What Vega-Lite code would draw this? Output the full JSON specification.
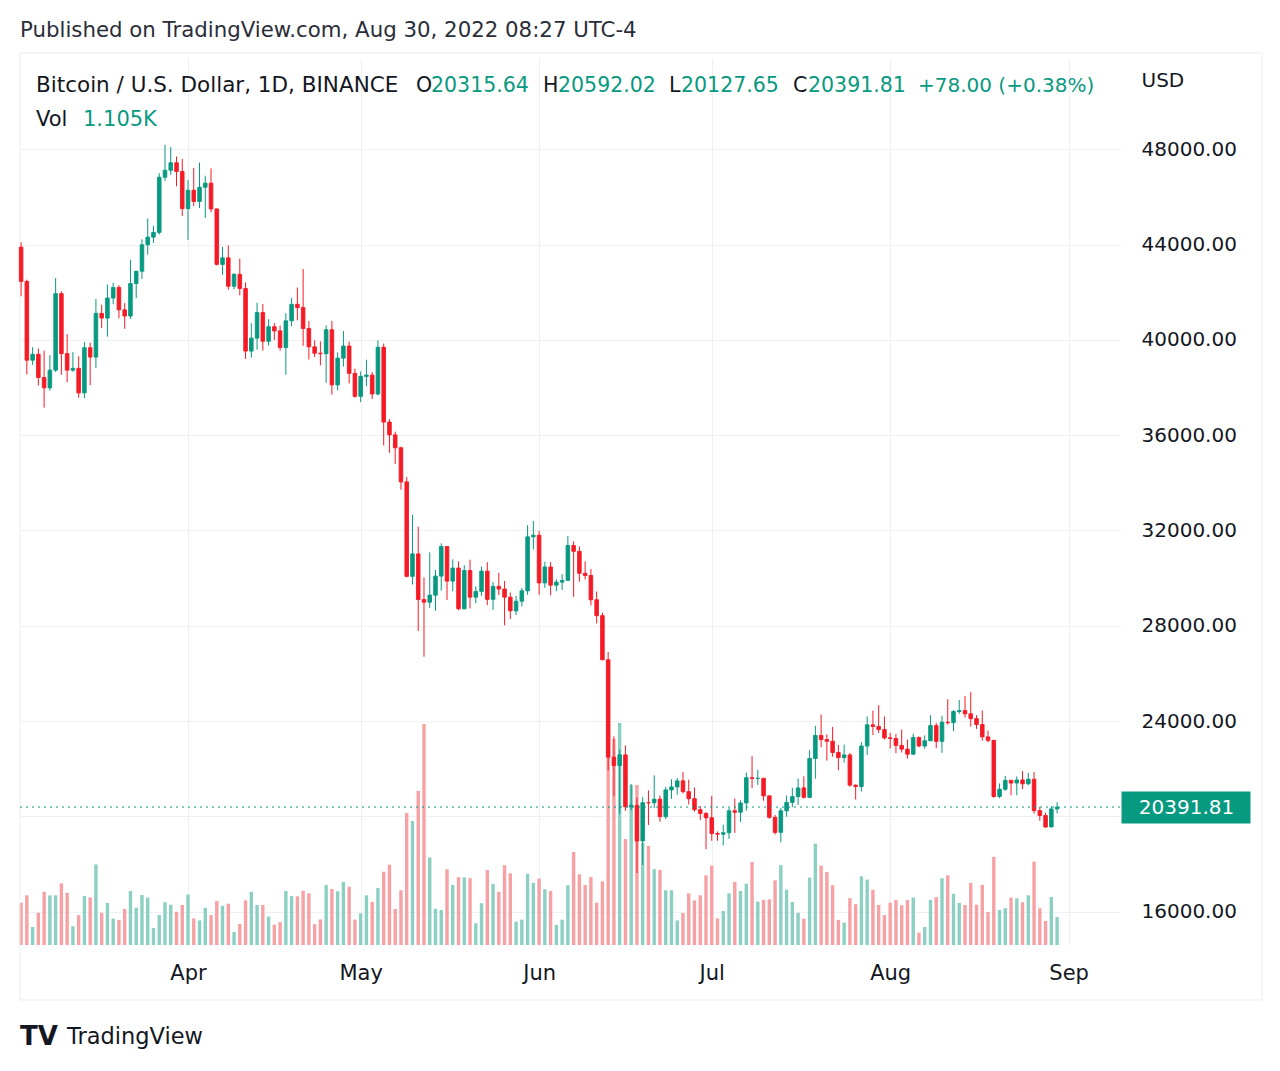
{
"$schema": "https://vega.github.io/schema/vega-lite/v6.json",
"width": 1100, "height": 887,
"autosize": {"type": "none"},
"padding": {"left": 20, "top": 58, "right": 160, "bottom": 126},
"background": "#ffffff",
"config": {"view": {"stroke": null}, "font": "DejaVu Sans", "axis": {"labelFont": "DejaVu Sans", "titleFont": "DejaVu Sans"}},
"data": {"values": [
{"d":"2022-03-03","o":43892,"h":44101,"l":41832,"c":42454,"v":1.67},
{"d":"2022-03-04","o":42454,"h":42527,"l":38550,"c":39148,"v":1.96},
{"d":"2022-03-05","o":39148,"h":39693,"l":38950,"c":39397,"v":0.71},
{"d":"2022-03-06","o":39397,"h":39640,"l":38088,"c":38420,"v":1.27},
{"d":"2022-03-07","o":38420,"h":39548,"l":37155,"c":37988,"v":2.10},
{"d":"2022-03-08","o":37988,"h":39362,"l":37867,"c":38730,"v":1.96},
{"d":"2022-03-09","o":38730,"h":42594,"l":38656,"c":41941,"v":1.96},
{"d":"2022-03-10","o":41941,"h":42039,"l":38539,"c":39422,"v":2.43},
{"d":"2022-03-11","o":39422,"h":40236,"l":38223,"c":38730,"v":2.06},
{"d":"2022-03-12","o":38730,"h":39486,"l":38660,"c":38807,"v":0.74},
{"d":"2022-03-13","o":38807,"h":39310,"l":37578,"c":37777,"v":1.18},
{"d":"2022-03-14","o":37777,"h":39915,"l":37555,"c":39671,"v":1.93},
{"d":"2022-03-15","o":39671,"h":39887,"l":38098,"c":39280,"v":1.88},
{"d":"2022-03-16","o":39280,"h":41720,"l":38828,"c":41114,"v":3.18},
{"d":"2022-03-17","o":41114,"h":41478,"l":40500,"c":40917,"v":1.27},
{"d":"2022-03-18","o":40917,"h":42325,"l":40135,"c":41757,"v":1.66},
{"d":"2022-03-19","o":41757,"h":42400,"l":41499,"c":42201,"v":1.04},
{"d":"2022-03-20","o":42201,"h":42296,"l":40911,"c":41262,"v":0.99},
{"d":"2022-03-21","o":41262,"h":41544,"l":40467,"c":41002,"v":1.42},
{"d":"2022-03-22","o":41002,"h":43361,"l":40875,"c":42364,"v":2.13},
{"d":"2022-03-23","o":42364,"h":42893,"l":41751,"c":42882,"v":1.47},
{"d":"2022-03-24","o":42882,"h":44220,"l":42560,"c":43991,"v":1.97},
{"d":"2022-03-25","o":43991,"h":45094,"l":43579,"c":44313,"v":1.87},
{"d":"2022-03-26","o":44313,"h":44792,"l":44071,"c":44511,"v":0.67},
{"d":"2022-03-27","o":44511,"h":46999,"l":44422,"c":46827,"v":1.18},
{"d":"2022-03-28","o":46827,"h":48190,"l":46664,"c":47122,"v":1.69},
{"d":"2022-03-29","o":47122,"h":48097,"l":46930,"c":47434,"v":1.59},
{"d":"2022-03-30","o":47434,"h":47700,"l":46445,"c":47067,"v":1.31},
{"d":"2022-03-31","o":47067,"h":47600,"l":45200,"c":45510,"v":1.58},
{"d":"2022-04-01","o":45510,"h":46720,"l":44200,"c":46283,"v":1.99},
{"d":"2022-04-02","o":46283,"h":47213,"l":45620,"c":45811,"v":1.05},
{"d":"2022-04-03","o":45811,"h":47444,"l":45530,"c":46407,"v":0.97},
{"d":"2022-04-04","o":46407,"h":46891,"l":45118,"c":46580,"v":1.47},
{"d":"2022-04-05","o":46580,"h":47200,"l":45353,"c":45497,"v":1.18},
{"d":"2022-04-06","o":45497,"h":45507,"l":43121,"c":43170,"v":1.74},
{"d":"2022-04-07","o":43170,"h":43900,"l":42727,"c":43444,"v":1.55},
{"d":"2022-04-08","o":43444,"h":43970,"l":42107,"c":42252,"v":1.63},
{"d":"2022-04-09","o":42252,"h":42800,"l":42125,"c":42753,"v":0.51},
{"d":"2022-04-10","o":42753,"h":43410,"l":41868,"c":42158,"v":0.83},
{"d":"2022-04-11","o":42158,"h":42414,"l":39200,"c":39530,"v":1.76},
{"d":"2022-04-12","o":39530,"h":40699,"l":39254,"c":40074,"v":2.10},
{"d":"2022-04-13","o":40074,"h":41561,"l":39588,"c":41147,"v":1.58},
{"d":"2022-04-14","o":41147,"h":41500,"l":39551,"c":39942,"v":1.58},
{"d":"2022-04-15","o":39942,"h":40870,"l":39767,"c":40552,"v":1.12},
{"d":"2022-04-16","o":40552,"h":40709,"l":39991,"c":40378,"v":0.80},
{"d":"2022-04-17","o":40378,"h":40595,"l":39546,"c":39678,"v":0.90},
{"d":"2022-04-18","o":39678,"h":41117,"l":38536,"c":40801,"v":2.13},
{"d":"2022-04-19","o":40801,"h":41760,"l":40571,"c":41493,"v":1.93},
{"d":"2022-04-20","o":41494,"h":42199,"l":40820,"c":41358,"v":1.92},
{"d":"2022-04-21","o":41358,"h":42976,"l":39751,"c":40480,"v":2.14},
{"d":"2022-04-22","o":40480,"h":40795,"l":39177,"c":39709,"v":2.04},
{"d":"2022-04-23","o":39709,"h":39980,"l":39285,"c":39441,"v":0.82},
{"d":"2022-04-24","o":39441,"h":39940,"l":38929,"c":39420,"v":1.01},
{"d":"2022-04-25","o":39420,"h":40616,"l":38200,"c":40426,"v":2.36},
{"d":"2022-04-26","o":40426,"h":40797,"l":37702,"c":38112,"v":2.21},
{"d":"2022-04-27","o":38112,"h":39474,"l":37881,"c":39235,"v":2.12},
{"d":"2022-04-28","o":39235,"h":40372,"l":38881,"c":39742,"v":2.49},
{"d":"2022-04-29","o":39742,"h":39925,"l":38175,"c":38596,"v":2.30},
{"d":"2022-04-30","o":38596,"h":38795,"l":37578,"c":37631,"v":1.00},
{"d":"2022-05-01","o":37631,"h":38675,"l":37387,"c":38468,"v":1.25},
{"d":"2022-05-02","o":38468,"h":39167,"l":38052,"c":38525,"v":1.96},
{"d":"2022-05-03","o":38525,"h":38651,"l":37517,"c":37729,"v":1.70},
{"d":"2022-05-04","o":37729,"h":39980,"l":37671,"c":39690,"v":2.25},
{"d":"2022-05-05","o":39690,"h":39845,"l":35571,"c":36552,"v":2.89},
{"d":"2022-05-06","o":36553,"h":36675,"l":35258,"c":36013,"v":3.17},
{"d":"2022-05-07","o":36014,"h":36146,"l":34785,"c":35472,"v":1.42},
{"d":"2022-05-08","o":35472,"h":35514,"l":33714,"c":34039,"v":2.16},
{"d":"2022-05-09","o":34039,"h":34243,"l":30033,"c":30076,"v":5.21},
{"d":"2022-05-10","o":30075,"h":32659,"l":29730,"c":31017,"v":4.89},
{"d":"2022-05-11","o":31017,"h":32162,"l":27785,"c":29103,"v":6.08},
{"d":"2022-05-12","o":29103,"h":30033,"l":26700,"c":28990,"v":8.72},
{"d":"2022-05-13","o":28990,"h":31083,"l":28751,"c":29287,"v":3.45},
{"d":"2022-05-14","o":29287,"h":30343,"l":28630,"c":30086,"v":1.43},
{"d":"2022-05-15","o":30086,"h":31460,"l":29480,"c":31328,"v":1.38},
{"d":"2022-05-16","o":31328,"h":31328,"l":29087,"c":29875,"v":2.99},
{"d":"2022-05-17","o":29875,"h":30788,"l":29450,"c":30424,"v":2.37},
{"d":"2022-05-18","o":30424,"h":30700,"l":28654,"c":28715,"v":2.68},
{"d":"2022-05-19","o":28715,"h":30545,"l":28693,"c":30319,"v":2.67},
{"d":"2022-05-20","o":30319,"h":30777,"l":28730,"c":29201,"v":2.64},
{"d":"2022-05-21","o":29201,"h":29656,"l":28947,"c":29445,"v":0.86},
{"d":"2022-05-22","o":29445,"h":30487,"l":29255,"c":30294,"v":1.65},
{"d":"2022-05-23","o":30294,"h":30670,"l":28866,"c":29110,"v":2.96},
{"d":"2022-05-24","o":29110,"h":29834,"l":28669,"c":29655,"v":2.41},
{"d":"2022-05-25","o":29655,"h":30223,"l":29294,"c":29543,"v":2.10},
{"d":"2022-05-26","o":29543,"h":29880,"l":28019,"c":29202,"v":3.15},
{"d":"2022-05-27","o":29202,"h":29397,"l":28282,"c":28627,"v":2.83},
{"d":"2022-05-28","o":28627,"h":29250,"l":28450,"c":29032,"v":0.92},
{"d":"2022-05-29","o":29032,"h":29587,"l":28812,"c":29468,"v":1.00},
{"d":"2022-05-30","o":29469,"h":32222,"l":29300,"c":31734,"v":2.81},
{"d":"2022-05-31","o":31734,"h":32399,"l":31200,"c":31801,"v":2.45},
{"d":"2022-06-01","o":31801,"h":31982,"l":29301,"c":29799,"v":2.62},
{"d":"2022-06-02","o":29800,"h":30690,"l":29594,"c":30468,"v":2.20},
{"d":"2022-06-03","o":30468,"h":30675,"l":29282,"c":29705,"v":2.13},
{"d":"2022-06-04","o":29706,"h":29950,"l":29450,"c":29833,"v":0.79},
{"d":"2022-06-05","o":29833,"h":30169,"l":29500,"c":29907,"v":1.00},
{"d":"2022-06-06","o":29907,"h":31765,"l":29880,"c":31371,"v":2.36},
{"d":"2022-06-07","o":31371,"h":31550,"l":29218,"c":31125,"v":3.67},
{"d":"2022-06-08","o":31125,"h":31330,"l":29850,"c":30205,"v":2.79},
{"d":"2022-06-09","o":30205,"h":30700,"l":29944,"c":30110,"v":2.37},
{"d":"2022-06-10","o":30110,"h":30387,"l":28850,"c":29091,"v":2.68},
{"d":"2022-06-11","o":29092,"h":29440,"l":28100,"c":28424,"v":1.67},
{"d":"2022-06-12","o":28425,"h":28544,"l":26560,"c":26575,"v":2.51},
{"d":"2022-06-13","o":26575,"h":26900,"l":21925,"c":22487,"v":10.66},
{"d":"2022-06-14","o":22485,"h":23362,"l":20846,"c":22136,"v":8.13},
{"d":"2022-06-15","o":22136,"h":22800,"l":20111,"c":22583,"v":8.76},
{"d":"2022-06-16","o":22583,"h":22980,"l":20232,"c":20401,"v":4.18},
{"d":"2022-06-17","o":20401,"h":21365,"l":20246,"c":20468,"v":6.31},
{"d":"2022-06-18","o":20468,"h":20792,"l":17622,"c":18970,"v":6.31},
{"d":"2022-06-19","o":18970,"h":20815,"l":17960,"c":20574,"v":4.03},
{"d":"2022-06-20","o":20575,"h":21090,"l":19637,"c":20573,"v":3.91},
{"d":"2022-06-21","o":20573,"h":21723,"l":20348,"c":20723,"v":2.99},
{"d":"2022-06-22","o":20723,"h":20872,"l":19770,"c":19987,"v":2.96},
{"d":"2022-06-23","o":19988,"h":21233,"l":19890,"c":21110,"v":2.16},
{"d":"2022-06-24","o":21110,"h":21558,"l":20740,"c":21237,"v":2.16},
{"d":"2022-06-25","o":21237,"h":21614,"l":20906,"c":21491,"v":0.97},
{"d":"2022-06-26","o":21492,"h":21869,"l":20958,"c":21038,"v":1.26},
{"d":"2022-06-27","o":21038,"h":21540,"l":20500,"c":20742,"v":2.04},
{"d":"2022-06-28","o":20742,"h":21212,"l":20202,"c":20281,"v":1.76},
{"d":"2022-06-29","o":20281,"h":20432,"l":19845,"c":20123,"v":1.96},
{"d":"2022-06-30","o":20123,"h":20179,"l":18626,"c":19942,"v":2.75},
{"d":"2022-07-01","o":19942,"h":20865,"l":18975,"c":19279,"v":3.13},
{"d":"2022-07-02","o":19279,"h":19371,"l":18977,"c":19252,"v":1.05},
{"d":"2022-07-03","o":19252,"h":19647,"l":18781,"c":19315,"v":1.34},
{"d":"2022-07-04","o":19315,"h":20354,"l":19055,"c":20236,"v":2.04},
{"d":"2022-07-05","o":20236,"h":20750,"l":19304,"c":20175,"v":2.49},
{"d":"2022-07-06","o":20175,"h":20675,"l":19761,"c":20564,"v":2.13},
{"d":"2022-07-07","o":20564,"h":21838,"l":20249,"c":21624,"v":2.42},
{"d":"2022-07-08","o":21624,"h":22527,"l":21189,"c":21595,"v":3.28},
{"d":"2022-07-09","o":21595,"h":21956,"l":21322,"c":21600,"v":1.71},
{"d":"2022-07-10","o":21600,"h":21607,"l":20655,"c":20862,"v":1.78},
{"d":"2022-07-11","o":20862,"h":20868,"l":19901,"c":19963,"v":1.80},
{"d":"2022-07-12","o":19963,"h":20059,"l":19240,"c":19328,"v":2.55},
{"d":"2022-07-13","o":19331,"h":20366,"l":18910,"c":20235,"v":3.15},
{"d":"2022-07-14","o":20235,"h":20880,"l":19986,"c":20588,"v":2.18},
{"d":"2022-07-15","o":20589,"h":21200,"l":20382,"c":20830,"v":1.70},
{"d":"2022-07-16","o":20830,"h":21588,"l":20478,"c":21195,"v":1.27},
{"d":"2022-07-17","o":21196,"h":21684,"l":20751,"c":20799,"v":1.04},
{"d":"2022-07-18","o":20799,"h":22777,"l":20762,"c":22432,"v":2.66},
{"d":"2022-07-19","o":22432,"h":23800,"l":21582,"c":23397,"v":4.00},
{"d":"2022-07-20","o":23397,"h":24276,"l":22906,"c":23224,"v":3.13},
{"d":"2022-07-21","o":23224,"h":23442,"l":22342,"c":23155,"v":2.88},
{"d":"2022-07-22","o":23155,"h":23757,"l":22500,"c":22682,"v":2.36},
{"d":"2022-07-23","o":22682,"h":22998,"l":21934,"c":22465,"v":0.99},
{"d":"2022-07-24","o":22465,"h":23014,"l":22258,"c":22579,"v":0.88},
{"d":"2022-07-25","o":22578,"h":22666,"l":21250,"c":21311,"v":1.85},
{"d":"2022-07-26","o":21311,"h":21344,"l":20706,"c":21252,"v":1.61},
{"d":"2022-07-27","o":21252,"h":23112,"l":21043,"c":22952,"v":2.71},
{"d":"2022-07-28","o":22953,"h":24199,"l":22581,"c":23843,"v":2.58},
{"d":"2022-07-29","o":23843,"h":24442,"l":23414,"c":23774,"v":2.18},
{"d":"2022-07-30","o":23774,"h":24668,"l":23502,"c":23644,"v":1.58},
{"d":"2022-07-31","o":23645,"h":24194,"l":23228,"c":23294,"v":1.18},
{"d":"2022-08-01","o":23297,"h":23510,"l":22850,"c":23269,"v":1.67},
{"d":"2022-08-02","o":23269,"h":23466,"l":22655,"c":22979,"v":1.78},
{"d":"2022-08-03","o":22979,"h":23648,"l":22682,"c":22824,"v":1.57},
{"d":"2022-08-04","o":22824,"h":23225,"l":22423,"c":22611,"v":1.78},
{"d":"2022-08-05","o":22611,"h":23475,"l":22585,"c":23312,"v":1.87},
{"d":"2022-08-06","o":23312,"h":23354,"l":22900,"c":22955,"v":0.49},
{"d":"2022-08-07","o":22955,"h":23400,"l":22841,"c":23175,"v":0.71},
{"d":"2022-08-08","o":23175,"h":24245,"l":23155,"c":23810,"v":1.78},
{"d":"2022-08-09","o":23810,"h":23929,"l":22860,"c":23150,"v":1.89},
{"d":"2022-08-10","o":23150,"h":24226,"l":22665,"c":23954,"v":2.63},
{"d":"2022-08-11","o":23954,"h":24918,"l":23853,"c":23935,"v":2.75},
{"d":"2022-08-12","o":23934,"h":24457,"l":23580,"c":24403,"v":2.02},
{"d":"2022-08-13","o":24403,"h":24888,"l":24300,"c":24442,"v":1.66},
{"d":"2022-08-14","o":24443,"h":25047,"l":24150,"c":24306,"v":1.58},
{"d":"2022-08-15","o":24306,"h":25212,"l":23774,"c":24102,"v":2.45},
{"d":"2022-08-16","o":24102,"h":24247,"l":23671,"c":23855,"v":1.59},
{"d":"2022-08-17","o":23855,"h":24446,"l":23180,"c":23337,"v":2.37},
{"d":"2022-08-18","o":23337,"h":23600,"l":23109,"c":23192,"v":1.30},
{"d":"2022-08-19","o":23192,"h":23208,"l":20783,"c":20835,"v":3.48},
{"d":"2022-08-20","o":20835,"h":21382,"l":20762,"c":21140,"v":1.38},
{"d":"2022-08-21","o":21140,"h":21700,"l":21070,"c":21516,"v":1.45},
{"d":"2022-08-22","o":21516,"h":21522,"l":20890,"c":21400,"v":1.87},
{"d":"2022-08-23","o":21400,"h":21678,"l":20890,"c":21529,"v":1.84},
{"d":"2022-08-24","o":21529,"h":21900,"l":21145,"c":21368,"v":1.69},
{"d":"2022-08-25","o":21368,"h":21819,"l":21310,"c":21560,"v":1.96},
{"d":"2022-08-26","o":21560,"h":21867,"l":20113,"c":20241,"v":3.29},
{"d":"2022-08-27","o":20241,"h":20400,"l":19813,"c":20038,"v":1.45},
{"d":"2022-08-28","o":20037,"h":20148,"l":19520,"c":19555,"v":0.95},
{"d":"2022-08-29","o":19555,"h":20433,"l":19550,"c":20313.81,"v":1.89},
{"d":"2022-08-30","o":20315.64,"h":20592.02,"l":20127.65,"c":20391.81,"v":1.105}
]},
"resolve": {"scale": {"y": "independent"}},
"layer": [
{
 "mark": {"type": "bar", "size": 3.4},
 "encoding": {
  "x": {"field": "d", "type": "temporal", "scale": {"type": "utc", "domain": [1646249097600, 1662761952000], "padding": 0, "nice": false},
   "axis": {"values": [1648771200000, 1651363200000, 1654041600000, 1656633600000, 1659312000000, 1661990400000],
    "labelExpr": "utcFormat(datum.value, '%b')", "domain": false, "ticks": false, "grid": true, "gridColor": "#eef0f3", "gridWidth": 1,
    "labelFontSize": 21, "labelColor": "#131722", "labelPadding": 28, "labelBaseline": "middle", "labelFlush": false, "labelOverlap": false, "title": null}},
  "y": {"field": "v", "type": "quantitative", "scale": {"domain": [0, 35], "nice": false, "zero": true}, "axis": null},
  "color": {"condition": {"test": "datum.c >= datum.o", "value": "#8bd0c2"}, "value": "#f6a1a4"}
 }
},
{
 "resolve": {"axis": {"y": "independent"}},
 "layer": [
  {
   "data": {"values": [{}]},
   "mark": {"type": "rect", "fill": null, "fillOpacity": 0, "stroke": "#e9ecf1", "strokeWidth": 1},
   "encoding": {
    "x": {"datum": 1646249097600, "type": "temporal", "scale": {"type": "utc", "domain": [1646249097600, 1662761952000], "padding": 0, "nice": false}},
    "x2": {"datum": 1664893353600},
    "y": {"datum": 52042, "type": "quantitative", "scale": {"domain": [14602, 51832], "nice": false, "zero": false}, "axis": null},
    "y2": {"datum": 12294}
   }
  },
  {
   "mark": {"type": "rule", "strokeWidth": 1},
   "encoding": {
    "x": {"field": "d", "type": "temporal", "scale": {"type": "utc", "domain": [1646249097600, 1662761952000], "padding": 0, "nice": false}},
    "y": {"field": "l", "type": "quantitative", "scale": {"domain": [14602, 51832], "nice": false, "zero": false},
     "axis": {"orient": "right", "values": [16000, 20000, 24000, 28000, 32000, 36000, 40000, 44000, 48000],
      "labelExpr": "datum.value == 20000 ? '' : format(datum.value, '.2f')", "domain": false, "ticks": false, "grid": true, "gridColor": "#eef0f3",
      "labelFontSize": 20, "labelColor": "#131722", "labelAlign": "left", "labelBaseline": "middle", "labelPadding": 21, "labelFlush": false, "labelOverlap": false,
      "title": "USD", "titleAngle": 0, "titleAlign": "left", "titleBaseline": "middle", "titleX": 21, "titleY": 22, "titleFontSize": 20, "titleFontWeight": "normal", "titleColor": "#131722"}},
    "y2": {"field": "h"},
    "color": {"condition": {"test": "datum.c >= datum.o", "value": "#089981"}, "value": "#f51b26"}
   }
  },
  {
   "mark": {"type": "bar", "size": 3.6, "strokeWidth": 0.9},
   "encoding": {
    "x": {"field": "d", "type": "temporal", "scale": {"type": "utc", "domain": [1646249097600, 1662761952000], "padding": 0, "nice": false}},
    "y": {"field": "o", "type": "quantitative", "scale": {"domain": [14602, 51832], "nice": false, "zero": false}, "axis": null},
    "y2": {"field": "c"},
    "color": {"condition": {"test": "datum.c >= datum.o", "value": "#089981"}, "value": "#f51b26"},
    "stroke": {"condition": {"test": "datum.c >= datum.o", "value": "#089981"}, "value": "#f51b26"}
   }
  },
  {
   "data": {"values": [{}]},
   "mark": {"type": "rule", "strokeDash": [2, 4], "color": "#089981", "strokeWidth": 1},
   "encoding": {
    "y": {"datum": 20391.81, "type": "quantitative", "scale": {"domain": [14602, 51832], "nice": false, "zero": false},
     "axis": {"orient": "right", "values": [20391.81], "domain": false, "grid": false, "ticks": true, "tickSize": 129, "tickWidth": 32,
      "tickColor": "#089981", "tickCap": "butt", "offset": 1, "labelExpr": "format(datum.value, '.2f')", "labelColor": "#ffffff",
      "labelFontSize": 20, "labelAlign": "center", "labelBaseline": "middle", "labelPadding": -64, "labelFlush": false, "labelOverlap": false, "title": null}}
   }
  },
  {
   "data": {"values": [{}]},
   "layer": [
    {"mark": {"type": "text", "text": "Published on TradingView.com, Aug 30, 2022 08:27 UTC-4", "align": "left", "baseline": "middle", "dx": -1.1, "fontSize": 21.3, "font": "DejaVu Sans", "color": "#2a2e39"},
     "encoding": {"x": {"datum": {"year": 2022, "month": 3, "date": 3, "utc": true}, "type": "temporal", "scale": {"type": "utc", "domain": [1646249097600, 1662761952000], "padding": 0, "nice": false}},
      "y": {"datum": 52965, "type": "quantitative", "scale": {"domain": [14602, 51832], "nice": false, "zero": false}, "axis": null}}},
    {"mark": {"type": "text", "text": "Bitcoin / U.S. Dollar, 1D, BINANCE", "align": "left", "baseline": "middle", "dx": 14.9, "fontSize": 21.5, "font": "DejaVu Sans", "color": "#131722"},
     "encoding": {"x": {"datum": {"year": 2022, "month": 3, "date": 3, "utc": true}, "type": "temporal", "scale": {"type": "utc", "domain": [1646249097600, 1662761952000], "padding": 0, "nice": false}},
      "y": {"datum": 50657, "type": "quantitative", "scale": {"domain": [14602, 51832], "nice": false, "zero": false}, "axis": null}}},
    {"mark": {"type": "text", "text": "O", "align": "left", "baseline": "middle", "dx": 394.9, "fontSize": 20.5, "font": "DejaVu Sans", "color": "#131722"},
     "encoding": {"x": {"datum": {"year": 2022, "month": 3, "date": 3, "utc": true}, "type": "temporal", "scale": {"type": "utc", "domain": [1646249097600, 1662761952000], "padding": 0, "nice": false}},
      "y": {"datum": 50657, "type": "quantitative", "scale": {"domain": [14602, 51832], "nice": false, "zero": false}, "axis": null}}},
    {"mark": {"type": "text", "text": "20315.64", "align": "left", "baseline": "middle", "dx": 409.9, "fontSize": 20.5, "font": "DejaVu Sans", "color": "#089981"},
     "encoding": {"x": {"datum": {"year": 2022, "month": 3, "date": 3, "utc": true}, "type": "temporal", "scale": {"type": "utc", "domain": [1646249097600, 1662761952000], "padding": 0, "nice": false}},
      "y": {"datum": 50657, "type": "quantitative", "scale": {"domain": [14602, 51832], "nice": false, "zero": false}, "axis": null}}},
    {"mark": {"type": "text", "text": "H", "align": "left", "baseline": "middle", "dx": 521.9, "fontSize": 20.5, "font": "DejaVu Sans", "color": "#131722"},
     "encoding": {"x": {"datum": {"year": 2022, "month": 3, "date": 3, "utc": true}, "type": "temporal", "scale": {"type": "utc", "domain": [1646249097600, 1662761952000], "padding": 0, "nice": false}},
      "y": {"datum": 50657, "type": "quantitative", "scale": {"domain": [14602, 51832], "nice": false, "zero": false}, "axis": null}}},
    {"mark": {"type": "text", "text": "20592.02", "align": "left", "baseline": "middle", "dx": 536.9, "fontSize": 20.5, "font": "DejaVu Sans", "color": "#089981"},
     "encoding": {"x": {"datum": {"year": 2022, "month": 3, "date": 3, "utc": true}, "type": "temporal", "scale": {"type": "utc", "domain": [1646249097600, 1662761952000], "padding": 0, "nice": false}},
      "y": {"datum": 50657, "type": "quantitative", "scale": {"domain": [14602, 51832], "nice": false, "zero": false}, "axis": null}}},
    {"mark": {"type": "text", "text": "L", "align": "left", "baseline": "middle", "dx": 647.9, "fontSize": 20.5, "font": "DejaVu Sans", "color": "#131722"},
     "encoding": {"x": {"datum": {"year": 2022, "month": 3, "date": 3, "utc": true}, "type": "temporal", "scale": {"type": "utc", "domain": [1646249097600, 1662761952000], "padding": 0, "nice": false}},
      "y": {"datum": 50657, "type": "quantitative", "scale": {"domain": [14602, 51832], "nice": false, "zero": false}, "axis": null}}},
    {"mark": {"type": "text", "text": "20127.65", "align": "left", "baseline": "middle", "dx": 659.9, "fontSize": 20.5, "font": "DejaVu Sans", "color": "#089981"},
     "encoding": {"x": {"datum": {"year": 2022, "month": 3, "date": 3, "utc": true}, "type": "temporal", "scale": {"type": "utc", "domain": [1646249097600, 1662761952000], "padding": 0, "nice": false}},
      "y": {"datum": 50657, "type": "quantitative", "scale": {"domain": [14602, 51832], "nice": false, "zero": false}, "axis": null}}},
    {"mark": {"type": "text", "text": "C", "align": "left", "baseline": "middle", "dx": 771.9, "fontSize": 20.5, "font": "DejaVu Sans", "color": "#131722"},
     "encoding": {"x": {"datum": {"year": 2022, "month": 3, "date": 3, "utc": true}, "type": "temporal", "scale": {"type": "utc", "domain": [1646249097600, 1662761952000], "padding": 0, "nice": false}},
      "y": {"datum": 50657, "type": "quantitative", "scale": {"domain": [14602, 51832], "nice": false, "zero": false}, "axis": null}}},
    {"mark": {"type": "text", "text": "20391.81", "align": "left", "baseline": "middle", "dx": 786.9, "fontSize": 20.5, "font": "DejaVu Sans", "color": "#089981"},
     "encoding": {"x": {"datum": {"year": 2022, "month": 3, "date": 3, "utc": true}, "type": "temporal", "scale": {"type": "utc", "domain": [1646249097600, 1662761952000], "padding": 0, "nice": false}},
      "y": {"datum": 50657, "type": "quantitative", "scale": {"domain": [14602, 51832], "nice": false, "zero": false}, "axis": null}}},
    {"mark": {"type": "text", "text": "+78.00 (+0.38%)", "align": "left", "baseline": "middle", "dx": 896.9, "fontSize": 20, "font": "DejaVu Sans", "color": "#089981"},
     "encoding": {"x": {"datum": {"year": 2022, "month": 3, "date": 3, "utc": true}, "type": "temporal", "scale": {"type": "utc", "domain": [1646249097600, 1662761952000], "padding": 0, "nice": false}},
      "y": {"datum": 50657, "type": "quantitative", "scale": {"domain": [14602, 51832], "nice": false, "zero": false}, "axis": null}}},
    {"mark": {"type": "text", "text": "Vol", "align": "left", "baseline": "middle", "dx": 14.9, "fontSize": 21, "font": "DejaVu Sans", "color": "#131722"},
     "encoding": {"x": {"datum": {"year": 2022, "month": 3, "date": 3, "utc": true}, "type": "temporal", "scale": {"type": "utc", "domain": [1646249097600, 1662761952000], "padding": 0, "nice": false}},
      "y": {"datum": 49230, "type": "quantitative", "scale": {"domain": [14602, 51832], "nice": false, "zero": false}, "axis": null}}},
    {"mark": {"type": "text", "text": "1.105K", "align": "left", "baseline": "middle", "dx": 61.9, "fontSize": 21, "font": "DejaVu Sans", "color": "#089981"},
     "encoding": {"x": {"datum": {"year": 2022, "month": 3, "date": 3, "utc": true}, "type": "temporal", "scale": {"type": "utc", "domain": [1646249097600, 1662761952000], "padding": 0, "nice": false}},
      "y": {"datum": 49230, "type": "quantitative", "scale": {"domain": [14602, 51832], "nice": false, "zero": false}, "axis": null}}},
    {"mark": {"type": "text", "text": "TV", "align": "left", "baseline": "middle", "dx": -1.1, "fontSize": 26, "font": "DejaVu Sans", "fontWeight": "bold", "color": "#131722"},
     "encoding": {"x": {"datum": {"year": 2022, "month": 3, "date": 3, "utc": true}, "type": "temporal", "scale": {"type": "utc", "domain": [1646249097600, 1662761952000], "padding": 0, "nice": false}},
      "y": {"datum": 10741, "type": "quantitative", "scale": {"domain": [14602, 51832], "nice": false, "zero": false}, "axis": null}}},
    {"mark": {"type": "text", "text": "TradingView", "align": "left", "baseline": "middle", "dx": 45.9, "fontSize": 22.5, "font": "DejaVu Sans", "color": "#131722"},
     "encoding": {"x": {"datum": {"year": 2022, "month": 3, "date": 3, "utc": true}, "type": "temporal", "scale": {"type": "utc", "domain": [1646249097600, 1662761952000], "padding": 0, "nice": false}},
      "y": {"datum": 10741, "type": "quantitative", "scale": {"domain": [14602, 51832], "nice": false, "zero": false}, "axis": null}}}
   ]
  }
 ]
}
]
}
